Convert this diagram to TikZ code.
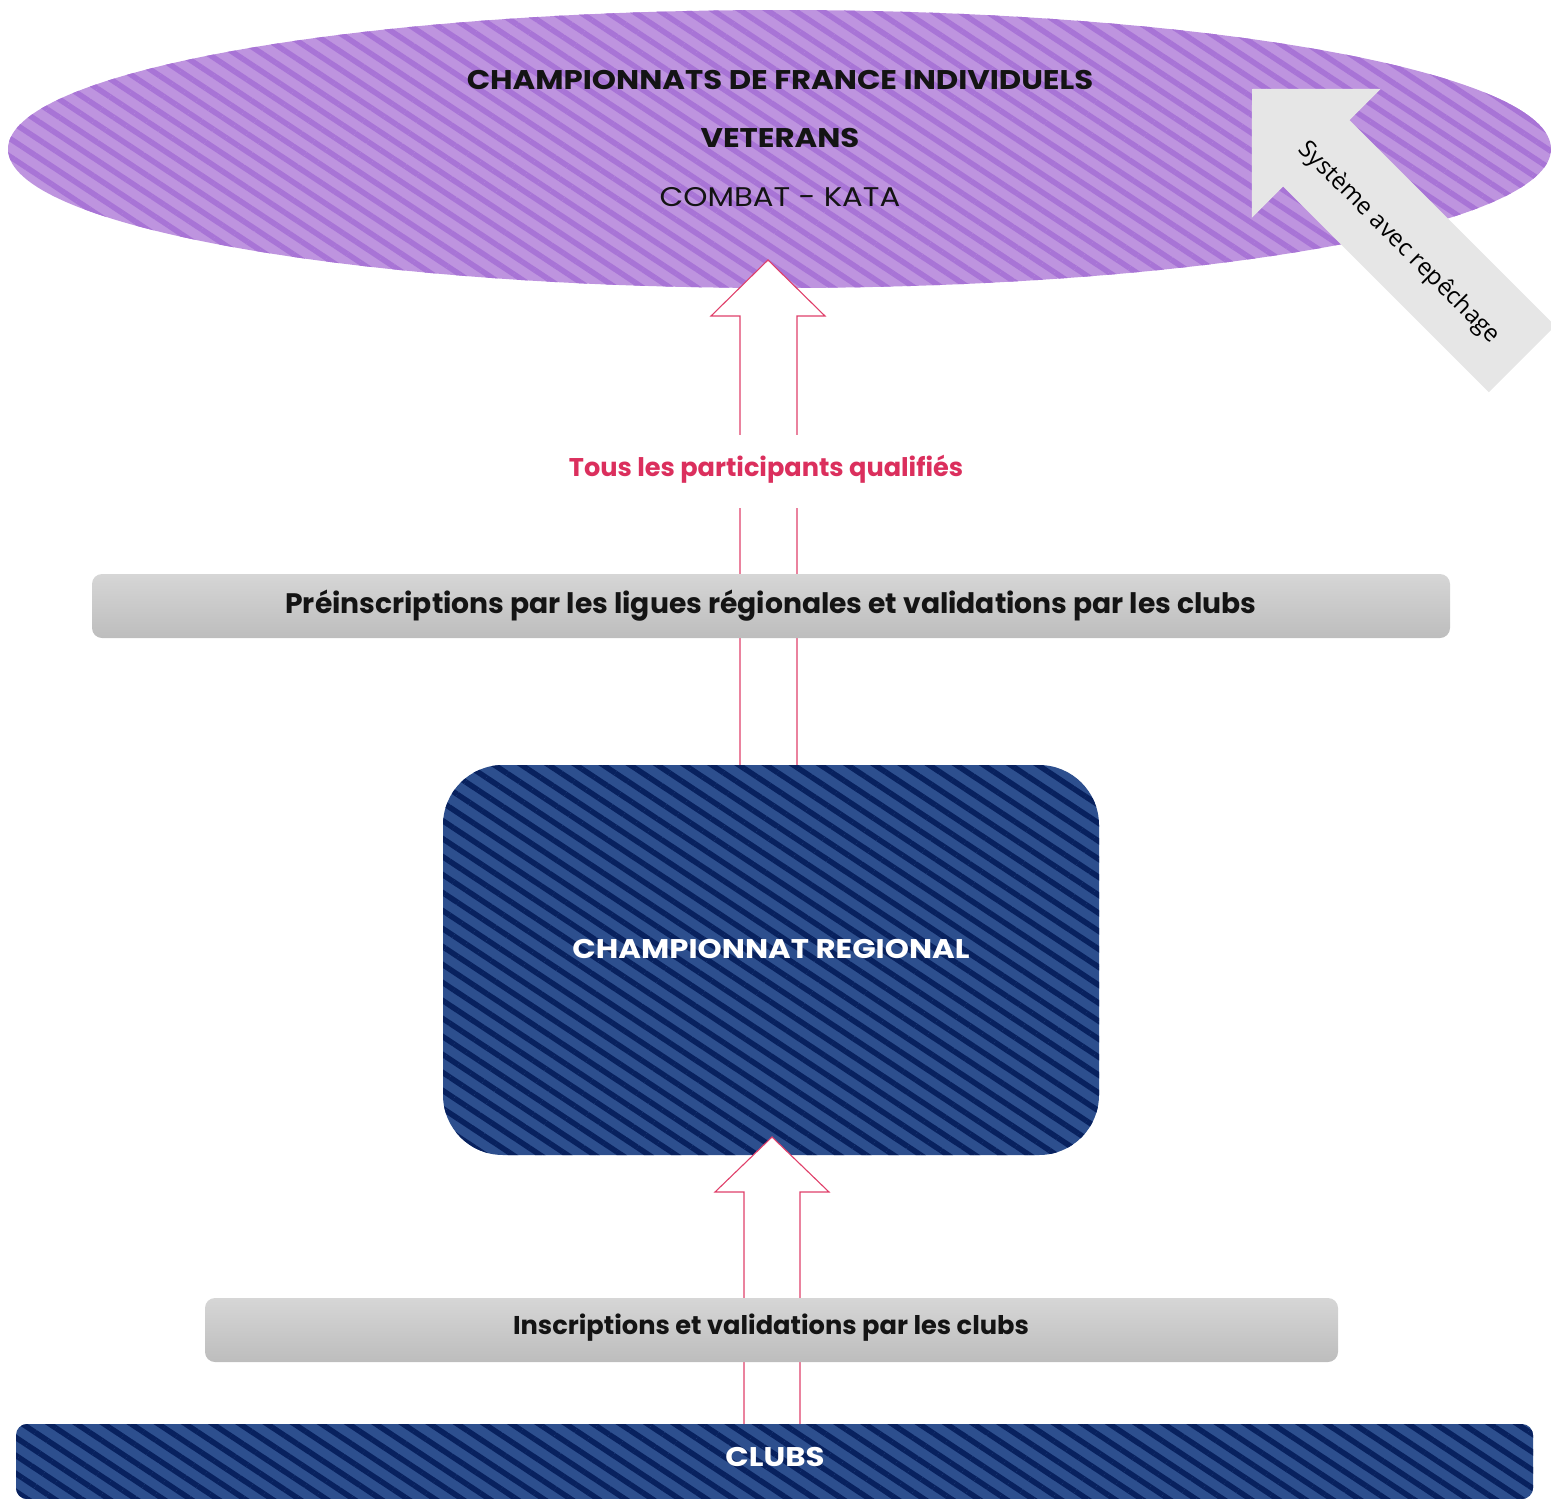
\documentclass[tikz,border=0pt]{standalone}
\usepackage{fontspec}
\setmainfont{Poppins}
\newfontfamily\widefont{Poppins}[FakeStretch=1.14]
\newfontfamily\osans{Open Sans}
\usetikzlibrary{patterns.meta,shapes.geometric}
\definecolor{purpL}{HTML}{BE94DF}
\definecolor{purpD}{HTML}{A874D6}
\definecolor{navyL}{HTML}{2D4F8E}
\definecolor{navyD}{HTML}{08215E}
\definecolor{pinkA}{HTML}{E0406A}
\definecolor{pinkT}{HTML}{DB2F5D}
\definecolor{grayA}{HTML}{E6E6E6}
\definecolor{barT}{HTML}{D6D6D6}
\definecolor{barB}{HTML}{BDBDBD}
\definecolor{ink}{HTML}{141414}
\tikzset{
  purpfill/.style={preaction={fill=purpL}, pattern={Lines[angle=-33.5,distance=15pt,line width=5.5pt]}, pattern color=purpD},
  navyfill/.style={preaction={fill=navyL}, pattern={Lines[angle=-33.5,distance=15pt,line width=5.5pt]}, pattern color=navyD},
  graybar/.style={rectangle, rounded corners=10pt, top color=barT, bottom color=barB, draw=none, inner sep=0pt},
  hollow/.style={draw=pinkA, line width=1.1pt, fill=white, line join=miter},
  ttl/.style={font=\widefont\bfseries\fontsize{27}{30}\selectfont, text=ink, inner sep=0pt},
  bartxt/.style={font=\bfseries\fontsize{26}{30}\selectfont, text=ink, inner sep=0pt},
  whitetxt/.style={font=\widefont\bfseries\fontsize{27}{30}\selectfont, text=white, inner sep=0pt},
}
\begin{document}
\begin{tikzpicture}[x=1pt,y=-1pt]
\useasboundingbox (0,0) rectangle (1551,1499);
% top ellipse
\node[ellipse, minimum width=1543pt, minimum height=278pt, inner sep=0pt, purpfill] (ell) at (779.5,149) {};
% grey block arrow
\coordinate (gT) at (1252,89);
\fill[grayA] (gT) -- (1380.6,88.9) -- (1349.5,120.1) -- (1555.3,325.9) -- (1488.9,392.3) -- (1283.1,186.5) -- (1251.9,217.7) -- cycle;
\node[rotate=-45, font=\osans\fontsize{24}{28}\selectfont, text=black, inner sep=0pt] (rep) at (1399,243) {Système avec repêchage};
% hollow arrow 1
\draw[hollow] (768,260) -- (825,316) -- (797,316) -- (797,772) -- (740,772) -- (740,316) -- (711,316) -- cycle;
% titles
\node[ttl] (t1) at (780,80) {CHAMPIONNATS DE FRANCE INDIVIDUELS};
\node[ttl] (t2) at (780,138) {VETERANS};
\node[ttl, font=\widefont\fontsize{27}{30}\selectfont] (t3) at (780,197) {COMBAT - KATA};
% label
\node[fill=white, text=pinkT, font=\bfseries\fontsize{25.6}{30}\selectfont, inner xsep=6pt, inner ysep=0pt, text height=41pt, text depth=32pt, anchor=base] (lab) at (766,476) {Tous les participants qualifiés};
% bar 1
\node[graybar, minimum width=1358pt, minimum height=64pt] (bar1) at (771,606) {};
\node[bartxt, font=\bfseries\fontsize{28.2}{32}\selectfont] (b1t) at (771,606) {Préinscriptions par les ligues régionales et validations par les clubs};
% regional
\node[rectangle, rounded corners=60pt, minimum width=656pt, minimum height=390pt, inner sep=0pt, navyfill] (reg) at (771,960) {};
\node[whitetxt] (regt) at (771,949) {CHAMPIONNAT REGIONAL};
% hollow arrow 2
\draw[hollow] (772,1137) -- (829,1192) -- (800,1192) -- (800,1432) -- (744,1432) -- (744,1192) -- (715,1192) -- cycle;
% bar 2
\node[graybar, minimum width=1133pt, minimum height=64pt] (bar2) at (771.5,1330) {};
\node[bartxt, font=\bfseries\fontsize{25.7}{30}\selectfont] (b2t) at (771,1328) {Inscriptions et validations par les clubs};
% clubs
\node[rectangle, rounded corners=11pt, minimum width=1517pt, minimum height=75pt, inner sep=0pt, navyfill] (clubs) at (774.5,1461.5) {};
\node[whitetxt] (clubst) at (775,1457) {CLUBS};
\end{tikzpicture}
\end{document}
